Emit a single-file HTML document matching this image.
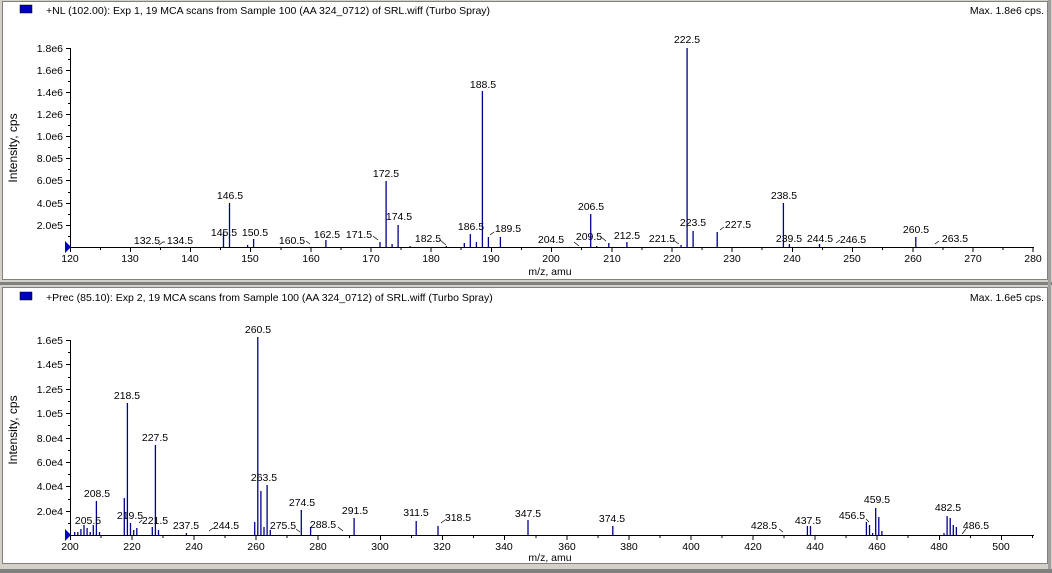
<!DOCTYPE html>
<html><head><meta charset="utf-8"><style>
html,body{margin:0;padding:0;background:#d4d0c8;}
svg{display:block;font-family:"Liberation Sans",Arial,sans-serif;}
</style></head><body>
<svg width="1052" height="573" viewBox="0 0 1052 573" xmlns="http://www.w3.org/2000/svg">
<rect x="0" y="0" width="1052" height="573" fill="#d4d0c8"/>
<rect x="2.5" y="1.5" width="1045" height="278" fill="#fff" stroke="#808080"/>
<rect x="0" y="282" width="1052" height="3" fill="#808080"/>
<rect x="2.5" y="287.5" width="1045" height="276" fill="#fff" stroke="#808080"/>
<rect x="1048" y="0" width="3" height="573" fill="#a0a0a0"/>
<rect x="0" y="569" width="1052" height="4" fill="#808080"/>

<g font-size="10.5" fill="#000">
<rect x="20" y="5" width="12" height="8" fill="#0000c0" stroke="#000" stroke-width="0.5"/>
<text x="46" y="14">+NL (102.00): Exp 1, 19 MCA scans from Sample 100 (AA 324_0712) of SRL.wiff (Turbo Spray)</text>
<text x="1044" y="14" text-anchor="end">Max. 1.8e6 cps.</text>
<text x="17" y="148" font-size="12" text-anchor="middle" transform="rotate(-90 17 148)">Intensity, cps</text>
<text x="550" y="275" text-anchor="middle">m/z, amu</text>

<g stroke="#000" stroke-width="1">
<line x1="70.5" y1="48" x2="70.5" y2="247"/>
<line x1="70" y1="247.5" x2="1034" y2="247.5"/>
<g>
<line x1="66" y1="48.5" x2="70" y2="48.5"/><line x1="66" y1="70.5" x2="70" y2="70.5"/><line x1="66" y1="92.5" x2="70" y2="92.5"/><line x1="66" y1="114.5" x2="70" y2="114.5"/><line x1="66" y1="136.5" x2="70" y2="136.5"/><line x1="66" y1="158.5" x2="70" y2="158.5"/><line x1="66" y1="180.5" x2="70" y2="180.5"/><line x1="66" y1="203.5" x2="70" y2="203.5"/><line x1="66" y1="225.5" x2="70" y2="225.5"/>
<line x1="68" y1="59.5" x2="70" y2="59.5"/><line x1="68" y1="81.5" x2="70" y2="81.5"/><line x1="68" y1="103.5" x2="70" y2="103.5"/><line x1="68" y1="125.5" x2="70" y2="125.5"/><line x1="68" y1="147.5" x2="70" y2="147.5"/><line x1="68" y1="169.5" x2="70" y2="169.5"/><line x1="68" y1="192.5" x2="70" y2="192.5"/><line x1="68" y1="214.5" x2="70" y2="214.5"/><line x1="68" y1="236.5" x2="70" y2="236.5"/>
</g>
<g>
<line x1="70.5" y1="247" x2="70.5" y2="252"/><line x1="130.5" y1="247" x2="130.5" y2="252"/><line x1="190.5" y1="247" x2="190.5" y2="252"/><line x1="250.5" y1="247" x2="250.5" y2="252"/><line x1="311" y1="247" x2="311" y2="252"/><line x1="371" y1="247" x2="371" y2="252"/><line x1="431" y1="247" x2="431" y2="252"/><line x1="491.5" y1="247" x2="491.5" y2="252"/><line x1="551.5" y1="247" x2="551.5" y2="252"/><line x1="612" y1="247" x2="612" y2="252"/><line x1="672" y1="247" x2="672" y2="252"/><line x1="732" y1="247" x2="732" y2="252"/><line x1="792.5" y1="247" x2="792.5" y2="252"/><line x1="852.5" y1="247" x2="852.5" y2="252"/><line x1="913" y1="247" x2="913" y2="252"/><line x1="973" y1="247" x2="973" y2="252"/><line x1="1033" y1="247" x2="1033" y2="252"/>
<line x1="100.5" y1="247" x2="100.5" y2="250"/><line x1="160.5" y1="247" x2="160.5" y2="250"/><line x1="220.5" y1="247" x2="220.5" y2="250"/><line x1="281" y1="247" x2="281" y2="250"/><line x1="341" y1="247" x2="341" y2="250"/><line x1="401" y1="247" x2="401" y2="250"/><line x1="461" y1="247" x2="461" y2="250"/><line x1="521.5" y1="247" x2="521.5" y2="250"/><line x1="581.5" y1="247" x2="581.5" y2="250"/><line x1="642" y1="247" x2="642" y2="250"/><line x1="702" y1="247" x2="702" y2="250"/><line x1="762" y1="247" x2="762" y2="250"/><line x1="822.5" y1="247" x2="822.5" y2="250"/><line x1="882.5" y1="247" x2="882.5" y2="250"/><line x1="943" y1="247" x2="943" y2="250"/><line x1="1003" y1="247" x2="1003" y2="250"/>
</g>
</g>
<polygon points="65,241 71,247 65,253" fill="#0000c0"/>
<g text-anchor="end">
<text x="63" y="52">1.8e6</text><text x="63" y="74">1.6e6</text><text x="63" y="96">1.4e6</text><text x="63" y="118">1.2e6</text><text x="63" y="140">1.0e6</text><text x="63" y="162">8.0e5</text><text x="63" y="184">6.0e5</text><text x="63" y="207">4.0e5</text><text x="63" y="229">2.0e5</text>
</g>
<g text-anchor="middle">
<text x="70" y="262">120</text><text x="130" y="262">130</text><text x="190" y="262">140</text><text x="250" y="262">150</text><text x="311" y="262">160</text><text x="371" y="262">170</text><text x="431" y="262">180</text><text x="491" y="262">190</text><text x="551" y="262">200</text><text x="612" y="262">210</text><text x="672" y="262">220</text><text x="732" y="262">230</text><text x="792" y="262">240</text><text x="852" y="262">250</text><text x="913" y="262">260</text><text x="973" y="262">270</text><text x="1033" y="262">280</text>
</g>
<g stroke="#000090" stroke-width="1.3">
<line x1="223.5" y1="247" x2="223.5" y2="232"/><line x1="229.5" y1="247" x2="229.5" y2="203"/><line x1="247.6" y1="247" x2="247.6" y2="245"/><line x1="253.6" y1="247" x2="253.6" y2="239"/><line x1="325.9" y1="247" x2="325.9" y2="240"/><line x1="380" y1="247" x2="380" y2="242"/><line x1="386.1" y1="247" x2="386.1" y2="181"/><line x1="392.1" y1="247" x2="392.1" y2="244"/><line x1="398.1" y1="247" x2="398.1" y2="225"/><line x1="410.1" y1="247" x2="410.1" y2="246"/><line x1="446.3" y1="247" x2="446.3" y2="246"/><line x1="464.3" y1="247" x2="464.3" y2="243"/><line x1="470.3" y1="247" x2="470.3" y2="234"/><line x1="476.4" y1="247" x2="476.4" y2="242"/><line x1="482.4" y1="247" x2="482.4" y2="91"/><line x1="488.4" y1="247" x2="488.4" y2="237"/><line x1="500.4" y1="247" x2="500.4" y2="237"/><line x1="590.7" y1="247" x2="590.7" y2="214"/><line x1="596.7" y1="247" x2="596.7" y2="246"/><line x1="608.8" y1="247" x2="608.8" y2="243"/><line x1="626.9" y1="247" x2="626.9" y2="242"/><line x1="681.1" y1="247" x2="681.1" y2="245"/><line x1="687.1" y1="247" x2="687.1" y2="48"/><line x1="693.1" y1="247" x2="693.1" y2="231"/><line x1="717.2" y1="247" x2="717.2" y2="232"/><line x1="783.4" y1="247" x2="783.4" y2="203"/><line x1="789.4" y1="247" x2="789.4" y2="244"/><line x1="819.5" y1="247" x2="819.5" y2="244"/><line x1="915.8" y1="247" x2="915.8" y2="237"/>
</g>
<g stroke="#000" stroke-width="0.7" fill="none">
<polyline points="159,245 163,242 165,242"/><polyline points="306,241 310,244"/><polyline points="373,236 378,240"/><polyline points="440,240 446,245"/><polyline points="490,235 494,232"/><polyline points="574,242 579,246"/><polyline points="601,237 606,241"/><polyline points="673,240 679,244"/><polyline points="720,230 724,227"/><polyline points="836,243 840,240"/><polyline points="935,244 939,241"/>
</g>
<g text-anchor="middle">
<text x="687" y="43">222.5</text><text x="483" y="88">188.5</text><text x="386" y="177">172.5</text><text x="230" y="199">146.5</text><text x="784" y="199">238.5</text><text x="591" y="210">206.5</text><text x="399" y="220">174.5</text><text x="224" y="236">145.5</text><text x="255" y="236">150.5</text><text x="471" y="230">186.5</text><text x="693" y="226">223.5</text><text x="738" y="228">227.5</text><text x="508" y="232">189.5</text><text x="327" y="238">162.5</text><text x="916" y="233">260.5</text><text x="147" y="244">132.5</text><text x="180" y="244">134.5</text><text x="292" y="244">160.5</text><text x="359" y="238">171.5</text><text x="428" y="242">182.5</text><text x="551" y="243">204.5</text><text x="589" y="240">209.5</text><text x="627" y="239">212.5</text><text x="662" y="242">221.5</text><text x="789" y="242">239.5</text><text x="820" y="242">244.5</text><text x="853" y="243">246.5</text><text x="955" y="242">263.5</text>
</g>

<rect x="20" y="292" width="12" height="8" fill="#0000c0" stroke="#000" stroke-width="0.5"/>
<text x="46" y="301">+Prec (85.10): Exp 2, 19 MCA scans from Sample 100 (AA 324_0712) of SRL.wiff (Turbo Spray)</text>
<text x="1044" y="301" text-anchor="end">Max. 1.6e5 cps.</text>
<text x="17" y="430" font-size="12" text-anchor="middle" transform="rotate(-90 17 430)">Intensity, cps</text>
<text x="550" y="561" text-anchor="middle">m/z, amu</text>
<g stroke="#000" stroke-width="1">
<line x1="70.5" y1="340" x2="70.5" y2="535"/>
<line x1="70" y1="535.5" x2="1034" y2="535.5"/>
<line x1="66" y1="340.5" x2="70" y2="340.5"/><line x1="66" y1="364.5" x2="70" y2="364.5"/><line x1="66" y1="389.5" x2="70" y2="389.5"/><line x1="66" y1="413.5" x2="70" y2="413.5"/><line x1="66" y1="438.5" x2="70" y2="438.5"/><line x1="66" y1="462.5" x2="70" y2="462.5"/><line x1="66" y1="486.5" x2="70" y2="486.5"/><line x1="66" y1="511.5" x2="70" y2="511.5"/>
<line x1="68" y1="352.5" x2="70" y2="352.5"/><line x1="68" y1="377.5" x2="70" y2="377.5"/><line x1="68" y1="401.5" x2="70" y2="401.5"/><line x1="68" y1="425.5" x2="70" y2="425.5"/><line x1="68" y1="450.5" x2="70" y2="450.5"/><line x1="68" y1="474.5" x2="70" y2="474.5"/><line x1="68" y1="499.5" x2="70" y2="499.5"/><line x1="68" y1="523.5" x2="70" y2="523.5"/>
<line x1="70.5" y1="535" x2="70.5" y2="540"/><line x1="132" y1="535" x2="132" y2="540"/><line x1="194" y1="535" x2="194" y2="540"/><line x1="256" y1="535" x2="256" y2="540"/><line x1="318" y1="535" x2="318" y2="540"/><line x1="380.5" y1="535" x2="380.5" y2="540"/><line x1="442.5" y1="535" x2="442.5" y2="540"/><line x1="504.5" y1="535" x2="504.5" y2="540"/><line x1="567" y1="535" x2="567" y2="540"/><line x1="629" y1="535" x2="629" y2="540"/><line x1="691" y1="535" x2="691" y2="540"/><line x1="753" y1="535" x2="753" y2="540"/><line x1="815" y1="535" x2="815" y2="540"/><line x1="877" y1="535" x2="877" y2="540"/><line x1="939.5" y1="535" x2="939.5" y2="540"/><line x1="1001.5" y1="535" x2="1001.5" y2="540"/>
<line x1="101" y1="535" x2="101" y2="538"/><line x1="163" y1="535" x2="163" y2="538"/><line x1="225" y1="535" x2="225" y2="538"/><line x1="287" y1="535" x2="287" y2="538"/><line x1="349.5" y1="535" x2="349.5" y2="538"/><line x1="411.5" y1="535" x2="411.5" y2="538"/><line x1="473.5" y1="535" x2="473.5" y2="538"/><line x1="536" y1="535" x2="536" y2="538"/><line x1="598" y1="535" x2="598" y2="538"/><line x1="660" y1="535" x2="660" y2="538"/><line x1="722" y1="535" x2="722" y2="538"/><line x1="784" y1="535" x2="784" y2="538"/><line x1="846" y1="535" x2="846" y2="538"/><line x1="908" y1="535" x2="908" y2="538"/><line x1="970.5" y1="535" x2="970.5" y2="538"/><line x1="1032.5" y1="535" x2="1032.5" y2="538"/>
</g>
<polygon points="65,529 71,535 65,541" fill="#0000c0"/>
<g text-anchor="end">
<text x="63" y="344">1.6e5</text><text x="63" y="368">1.4e5</text><text x="63" y="393">1.2e5</text><text x="63" y="417">1.0e5</text><text x="63" y="442">8.0e4</text><text x="63" y="466">6.0e4</text><text x="63" y="490">4.0e4</text><text x="63" y="515">2.0e4</text>
</g>
<g text-anchor="middle">
<text x="70" y="550">200</text><text x="132" y="550">220</text><text x="194" y="550">240</text><text x="256" y="550">260</text><text x="318" y="550">280</text><text x="380" y="550">300</text><text x="442" y="550">320</text><text x="504" y="550">340</text><text x="567" y="550">360</text><text x="629" y="550">380</text><text x="691" y="550">400</text><text x="753" y="550">420</text><text x="815" y="550">440</text><text x="877" y="550">460</text><text x="939" y="550">480</text><text x="1001" y="550">500</text>
</g>
<g stroke="#000090" stroke-width="1.3">
<line x1="74.7" y1="535" x2="74.7" y2="532"/><line x1="77.8" y1="535" x2="77.8" y2="532"/><line x1="80.9" y1="535" x2="80.9" y2="529"/><line x1="84" y1="535" x2="84" y2="525"/><line x1="87.1" y1="535" x2="87.1" y2="528"/><line x1="90.2" y1="535" x2="90.2" y2="532"/><line x1="93.3" y1="535" x2="93.3" y2="525"/><line x1="96.4" y1="535" x2="96.4" y2="501"/><line x1="99.5" y1="535" x2="99.5" y2="532"/><line x1="124.3" y1="535" x2="124.3" y2="498"/><line x1="127.4" y1="535" x2="127.4" y2="403"/><line x1="130.5" y1="535" x2="130.5" y2="523"/><line x1="133.7" y1="535" x2="133.7" y2="530"/><line x1="136.8" y1="535" x2="136.8" y2="528"/><line x1="152.3" y1="535" x2="152.3" y2="527"/><line x1="155.4" y1="535" x2="155.4" y2="445"/><line x1="158.5" y1="535" x2="158.5" y2="530"/><line x1="186.4" y1="535" x2="186.4" y2="533"/><line x1="254.7" y1="535" x2="254.7" y2="522"/><line x1="257.8" y1="535" x2="257.8" y2="337"/><line x1="260.9" y1="535" x2="260.9" y2="491"/><line x1="264" y1="535" x2="264" y2="527"/><line x1="267.1" y1="535" x2="267.1" y2="485"/><line x1="270.3" y1="535" x2="270.3" y2="530"/><line x1="301.3" y1="535" x2="301.3" y2="510"/><line x1="310.6" y1="535" x2="310.6" y2="527"/><line x1="354.1" y1="535" x2="354.1" y2="518"/><line x1="416.2" y1="535" x2="416.2" y2="521"/><line x1="438" y1="535" x2="438" y2="526"/><line x1="528" y1="535" x2="528" y2="520"/><line x1="612.8" y1="535" x2="612.8" y2="526"/><line x1="807.4" y1="535" x2="807.4" y2="526"/><line x1="810.5" y1="535" x2="810.5" y2="526"/><line x1="866.4" y1="535" x2="866.4" y2="522"/><line x1="869.5" y1="535" x2="869.5" y2="525"/><line x1="872.6" y1="535" x2="872.6" y2="533"/><line x1="875.7" y1="535" x2="875.7" y2="508"/><line x1="878.8" y1="535" x2="878.8" y2="517"/><line x1="881.9" y1="535" x2="881.9" y2="531"/><line x1="944" y1="535" x2="944" y2="533"/><line x1="947.1" y1="535" x2="947.1" y2="516"/><line x1="950.2" y1="535" x2="950.2" y2="518"/><line x1="953.3" y1="535" x2="953.3" y2="525"/><line x1="956.4" y1="535" x2="956.4" y2="527"/>
</g>
<g stroke="#000" stroke-width="0.7" fill="none">
<polyline points="139,523 142,520"/><polyline points="209,531 213,528"/><polyline points="296,529 300,532"/><polyline points="338,527 343,531"/><polyline points="441,523 445,520"/><polyline points="779,529 783,532"/><polyline points="866,519 869,522"/><polyline points="962,534 966,529"/>
</g>
<g text-anchor="middle">
<text x="258" y="333">260.5</text><text x="127" y="399">218.5</text><text x="155" y="441">227.5</text><text x="264" y="481">263.5</text><text x="97" y="497">208.5</text><text x="302" y="506">274.5</text><text x="355" y="514">291.5</text><text x="416" y="516">311.5</text><text x="528" y="517">347.5</text><text x="877" y="503">459.5</text><text x="948" y="511">482.5</text><text x="88" y="524">205.5</text><text x="130" y="519">219.5</text><text x="155" y="524">221.5</text><text x="186" y="529">237.5</text><text x="226" y="529">244.5</text><text x="283" y="529">275.5</text><text x="323" y="528">288.5</text><text x="458" y="521">318.5</text><text x="612" y="522">374.5</text><text x="764" y="529">428.5</text><text x="808" y="524">437.5</text><text x="852" y="519">456.5</text><text x="976" y="529">486.5</text>
</g>
</g>
</svg>
</body></html>
